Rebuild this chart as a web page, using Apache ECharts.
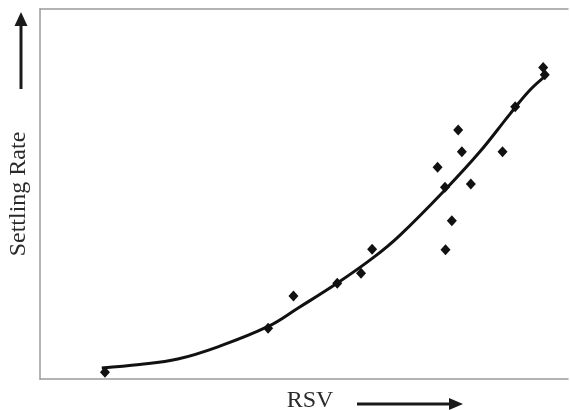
<!DOCTYPE html>
<html>
<head>
<meta charset="utf-8">
<script src="https://cdn.jsdelivr.net/npm/echarts@6/dist/echarts.min.js"></script>
<style>html,body{margin:0;padding:0;background:#fff;}#c{width:570px;height:410px;}</style>
</head>
<body>
<div id="c"></div>
<script>
// Observed data points (RSV, Settling Rate) in arbitrary units (no tick labels on the chart)
const pointsX = [12.3, 43.2, 48.0, 56.3, 60.8, 62.9, 75.3, 76.7, 76.8, 78.0, 79.2, 79.9, 81.6, 87.6, 90.0, 95.3, 95.6];
const pointsY = [1.8, 13.7, 22.4, 25.9, 28.6, 35.1, 57.2, 51.8, 34.9, 42.8, 67.3, 61.4, 52.7, 61.4, 73.6, 84.2, 82.2];
// Trend curve
const curveX = [11.7, 18.9, 26.1, 33.7, 43.2, 48.9, 56.4, 63.3, 68.2, 76.7, 83.3, 89.0, 92.8, 96.0];
const curveY = [3.0, 3.9, 5.4, 8.7, 14.2, 19.2, 26.0, 33.0, 38.9, 51.1, 61.4, 71.6, 78.1, 82.2];
const xName = 'RSV';
const yName = 'Settling Rate';

const chart = echarts.init(document.getElementById('c'), null, {renderer: 'canvas'});
const axisLineStyle = {color: '#9a9a9a', width: 1.5};
const font = 'Liberation Serif';
chart.setOption({
  animation: false,
  backgroundColor: '#fff',
  grid: {left: 40, right: 2, top: 9, bottom: 31, containLabel: false, outerBoundsMode: 'none'},
  xAxis: [{
    type: 'value', min: 0, max: 100,
    name: xName, nameLocation: 'middle', nameGap: 10,
    nameTextStyle: {fontFamily: font, fontSize: 24, color: '#2a2a2a', padding: [0, 0, 0, 12], verticalAlign: 'top'},
    axisLine: {show: true, lineStyle: axisLineStyle},
    axisTick: {show: false}, axisLabel: {show: false}, splitLine: {show: false}
  }, {
    type: 'value', min: 0, max: 100, position: 'top',
    axisLine: {show: true, lineStyle: axisLineStyle},
    axisTick: {show: false}, axisLabel: {show: false}, splitLine: {show: false}
  }],
  yAxis: {
    type: 'value', min: 0, max: 100,
    name: yName, nameLocation: 'middle', nameGap: 9, nameRotate: 90,
    nameTextStyle: {fontFamily: font, fontSize: 24, color: '#2a2a2a'},
    axisLine: {show: true, lineStyle: axisLineStyle},
    axisTick: {show: false}, axisLabel: {show: false}, splitLine: {show: false}
  },
  graphic: [
    {type: 'line', shape: {x1: 21, y1: 89, x2: 21, y2: 22}, style: {stroke: '#1a1a1a', lineWidth: 3}},
    {type: 'polygon', shape: {points: [[21, 12], [14.5, 26], [27.5, 26]]}, style: {fill: '#1a1a1a'}},
    {type: 'line', shape: {x1: 357, y1: 404, x2: 452, y2: 404}, style: {stroke: '#1a1a1a', lineWidth: 3}},
    {type: 'polygon', shape: {points: [[463, 404], [449, 398], [449, 410]]}, style: {fill: '#1a1a1a'}}
  ],
  series: [{
    type: 'line',
    data: curveX.map((x, i) => [x, curveY[i]]),
    smooth: 0.4,
    showSymbol: false,
    lineStyle: {color: '#111', width: 3},
    z: 2
  }, {
    type: 'scatter',
    data: pointsX.map((x, i) => [x, pointsY[i]]),
    symbol: 'diamond',
    symbolSize: [10, 11],
    itemStyle: {color: '#111', opacity: 1},
    z: 3
  }]
});
</script>
</body>
</html>
